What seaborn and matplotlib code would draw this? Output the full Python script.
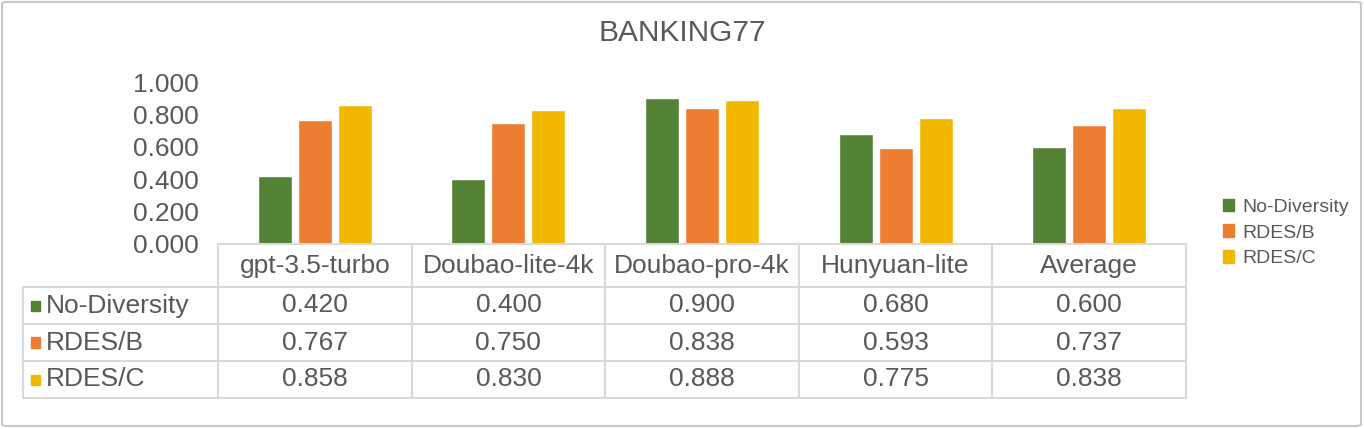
import numpy as np
import pandas as pd
import matplotlib
matplotlib.use("Agg")
import matplotlib.pyplot as plt
import matplotlib.transforms as mtransforms
from matplotlib.lines import Line2D
from matplotlib.patches import FancyBboxPatch, Rectangle
import seaborn as sns

# ==========================================================
# DATA
# ==========================================================

models = ["gpt-3.5-turbo", "Doubao-lite-4k", "Doubao-pro-4k", "Hunyuan-lite", "Average"]
series = ["No-Diversity", "RDES/B", "RDES/C"]

no_diversity = [0.420, 0.400, 0.900, 0.680, 0.600]
rdes_b = [0.767, 0.750, 0.838, 0.593, 0.737]
rdes_c = [0.858, 0.830, 0.888, 0.775, 0.838]

y_ticks = [0.0, 0.2, 0.4, 0.6, 0.8, 1.0]

colors = ["#548235", "#ED7D31", "#F2B800"]
text_color = "#595959"
line_color = "#D9D9D9"

df = pd.DataFrame({
    "Model": models * 3,
    "Series": [s for s in series for _ in models],
    "Score": no_diversity + rdes_b + rdes_c,
})

# ==========================================================
# FIGURE
# ==========================================================

sns.set_style("white")
plt.rcParams["font.family"] = ["Liberation Sans", "DejaVu Sans"]

W, H = 1364, 429
fig = plt.figure(figsize=(W / 100, H / 100), dpi=100)


def fx(x):
    return x / W


def fy(y):
    return 1 - y / H


ax = fig.add_axes([fx(218), fy(244), fx(1186) - fx(218), fy(82) - fy(244)])

sns.barplot(
    data=df,
    x="Model",
    y="Score",
    hue="Series",
    palette=colors,
    saturation=1,
    width=0.62,
    gap=0.15,
    ax=ax,
    legend=False,
)

ax.set_ylim(0, 1.0)
ax.set_xlim(-0.5, len(models) - 0.5)
ax.set_yticks(y_ticks)
ax.set_yticklabels([f"{v:.3f}" for v in y_ticks], fontsize=19, color=text_color)
ax.tick_params(axis="y", length=0, pad=14)
ax.set_xticks([])
ax.set_xlabel("")
ax.set_ylabel("")
for s in ["top", "right", "left", "bottom"]:
    ax.spines[s].set_visible(False)

fig.text(fx(682), fy(33), "BANKING77", ha="center", va="center",
         fontsize=21.5, color=text_color)

# ==========================================================
# LEGEND
# ==========================================================

handles = [Rectangle((0, 0), 1, 1, color=c) for c in colors]
fig.legend(
    handles, series,
    loc="center left",
    bbox_to_anchor=(fx(1205), fy(233)),
    frameon=False,
    fontsize=14,
    labelcolor=text_color,
    handlelength=0.6,
    handleheight=0.6,
    handletextpad=0.4,
    labelspacing=0.45,
)

# ==========================================================
# DATA TABLE
# ==========================================================

trans = mtransforms.blended_transform_factory(ax.transData, fig.transFigure)
x_left = -0.5
x_right = len(models) - 0.5
row_edges = [244, 287, 324, 361, 398]

# horizontal lines
fig.add_artist(Line2D([x_left, x_right], [fy(244)] * 2, transform=trans,
                      color=line_color, lw=1.5))
for y in row_edges[1:]:
    fig.add_artist(Line2D([fx(23), fx(218)], [fy(y)] * 2,
                          transform=fig.transFigure, color=line_color, lw=1.5))
    fig.add_artist(Line2D([x_left, x_right], [fy(y)] * 2, transform=trans,
                          color=line_color, lw=1.5))

# vertical lines
fig.add_artist(Line2D([fx(23)] * 2, [fy(287), fy(398)],
                      transform=fig.transFigure, color=line_color, lw=1.5))
for k in range(len(models) + 1):
    fig.add_artist(Line2D([k - 0.5] * 2, [fy(244), fy(398)], transform=trans,
                          color=line_color, lw=1.5))

# header
for i, m in enumerate(models):
    fig.text(i, fy(266), m, transform=trans, ha="center", va="center",
             fontsize=19, color=text_color)

# rows
values = [no_diversity, rdes_b, rdes_c]
for r, (name, vals, c) in enumerate(zip(series, values, colors)):
    yc = (row_edges[r + 1] + row_edges[r + 2]) / 2
    fig.add_artist(Rectangle((fx(31), fy(yc + 5)), fx(9), fy(yc - 5) - fy(yc + 5),
                             transform=fig.transFigure, color=c))
    fig.text(fx(46), fy(yc), name, ha="left", va="center",
             fontsize=19, color=text_color)
    for i, v in enumerate(vals):
        fig.text(i, fy(yc), f"{v:.3f}", transform=trans, ha="center",
                 va="center", fontsize=19, color=text_color)

# outer border
fig.add_artist(FancyBboxPatch((fx(2), fy(426)), fx(1359), fy(2) - fy(426),
                              boxstyle="round,pad=0,rounding_size=0.004",
                              transform=fig.transFigure, fill=False,
                              edgecolor="#C8C8C8", lw=1.5))

fig.savefig("out.png", dpi=100)
